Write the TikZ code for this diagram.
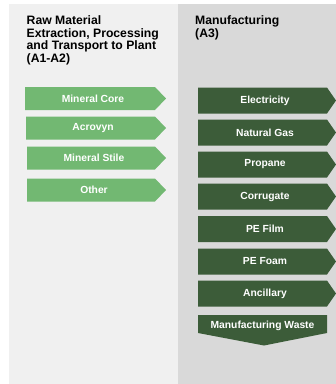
\documentclass[tikz,border=0pt]{standalone}
\usepackage{fontspec}
\setmainfont{Liberation Sans}
\usetikzlibrary{positioning}

\definecolor{panelA}{HTML}{F0F0F0}
\definecolor{panelB}{HTML}{D9D9D9}
\definecolor{lgreen}{HTML}{72B872}
\definecolor{dgreen}{HTML}{3C5C39}

\tikzset{
  heading/.style={anchor=north west, inner sep=0pt, align=left, text=black,
    font=\fontsize{12.2}{12.6}\selectfont\bfseries},
  tag/.style={inner sep=0pt, text=white, font=\fontsize{10.3}{11}\selectfont\bfseries}
}

\begin{document}
\begin{tikzpicture}[x=1pt, y=-1pt]
\useasboundingbox (0,0) rectangle (336,384);
\fill[white](0,0)rectangle (336,384);
\fill[panelA](9,4)rectangle (178,384);
\fill[panelB](178,4)rectangle (336,384);

\node[heading] (rawtitle) at (26.5,15.5){Raw Material\\Extraction, Processing\\and Transport to Plant\\(A1-A2)};
\node[heading] (mantitle) at (195,15.5){Manufacturing\\(A3)};

% raw material inputs
\fill[lgreen](25,87)--(155,87)--(166,98.5)--(155,110)--(25,110)--cycle;
\node[tag] (core) at (93,98.5){Mineral Core};
\fill[lgreen](26,116.5)--(155,116.5)--(166,128)--(155,139.5)--(26,139.5)--cycle;
\node[tag] (acrovyn) at (93,128){Acrovyn};
\fill[lgreen](27,146.5)--(155,146.5)--(166,158)--(155,169.5)--(27,169.5)--cycle;
\node[tag] (stile) at (94,158){Mineral Stile};
\fill[lgreen](27,178.5)--(155,178.5)--(166,190)--(155,201.5)--(27,201.5)--cycle;
\node[tag] (other) at (94,190){Other};

% manufacturing inputs
\fill[dgreen](198,87.5)--(327,87.5)--(336,100.5)--(327,113.5)--(198,113.5)--cycle;
\node[tag] (elec) at (265,100.5){Electricity};
\fill[dgreen](198,119.5)--(327,119.5)--(336,132.5)--(327,145.5)--(198,145.5)--cycle;
\node[tag] (gas) at (265,132.5){Natural Gas};
\fill[dgreen](198,151.5)--(327,151.5)--(336,164.5)--(327,177.5)--(198,177.5)--cycle;
\node[tag] (propane) at (265,164.5){Propane};
\fill[dgreen](198,183.5)--(327,183.5)--(336,196.5)--(327,209.5)--(198,209.5)--cycle;
\node[tag] (corrugate) at (265,196.5){Corrugate};
\fill[dgreen](198,216)--(327,216)--(336,229)--(327,242)--(198,242)--cycle;
\node[tag] (film) at (265,229){PE Film};
\fill[dgreen](198,248.5)--(327,248.5)--(336,261.5)--(327,274.5)--(198,274.5)--cycle;
\node[tag] (foam) at (265,261.5){PE Foam};
\fill[dgreen](198,280.5)--(327,280.5)--(336,293.5)--(327,306.5)--(198,306.5)--cycle;
\node[tag] (ancillary) at (265,293.5){Ancillary};

\fill[dgreen](198,315)--(327,315)--(327,333)--(264,345.5)--(198,333)--cycle;
\node[tag] (waste) at (262.5,326){Manufacturing Waste};
\end{tikzpicture}
\end{document}
